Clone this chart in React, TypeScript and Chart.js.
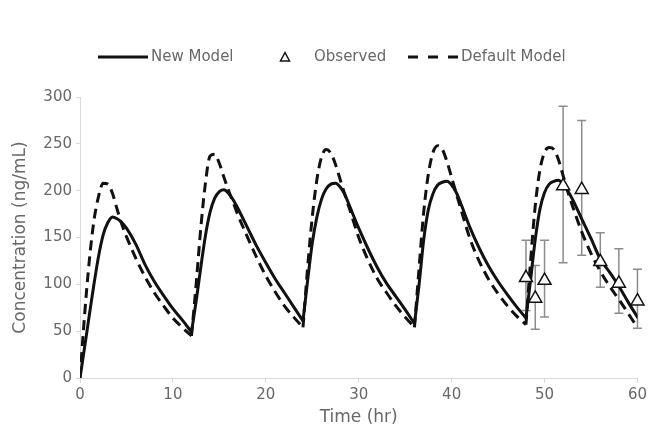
import { useEffect, useRef } from "react";
import { Chart, registerables } from "chart.js";

Chart.register(...registerables);

// Dosing every 12 h; each model curve restarts sharply at a dose.
const doseStarts = [0, 12, 24, 36, 48];
const cycleOffsets = [0, 0.5, 1, 1.5, 2, 2.5, 3, 3.5, 4, 4.5, 5, 6, 7, 8, 9, 10, 11, 12];

// Concentrations (ng/mL) per dosing interval, aligned with cycleOffsets.
const newModelConc: number[][] = [
  [0, 33, 67, 100, 130, 153, 166, 172, 170, 166, 160, 143, 121, 103, 88, 74, 62, 49],
  [49, 82, 118, 152, 177, 192, 199, 201, 197, 190, 181, 161, 141, 123, 106, 91, 76, 61],
  [61, 104, 144, 172, 191, 202, 207, 208, 204, 196, 184, 160, 138, 118, 101, 87, 73, 58],
  [58, 100, 148, 180, 197, 206, 209, 210, 206, 198, 186, 160, 138, 119, 103, 89, 76, 64],
  [64, 105, 148, 180, 198, 207, 210, 211, 207, 200, 191, 170, 149, 127, 113, 98, 81, 65],
];

const defaultModelConc: number[][] = [
  [0, 68, 125, 168, 194, 208, 207, 197, 180, 164, 151, 128, 108, 91, 77, 64, 54, 45],
  [45, 100, 160, 208, 237, 239, 229, 214, 200, 187, 174, 151, 129, 109, 92, 77, 65, 54],
  [54, 118, 172, 212, 236, 244, 240, 228, 212, 196, 181, 150, 126, 106, 91, 77, 65, 54],
  [54, 118, 178, 218, 241, 248, 244, 231, 214, 197, 180, 148, 124, 105, 90, 77, 66, 57],
  [57, 125, 184, 222, 241, 246, 244, 233, 216, 199, 184, 156, 133, 114, 98, 84, 69, 54],
];

// Observed concentrations with error bars
const observedHours = [48, 49, 50, 52, 54, 56, 58, 60];
const observedConc = [107, 85, 104, 205, 201, 124, 101, 82];
const observedLower = [72, 52, 65, 123, 131, 97, 69, 53];
const observedUpper = [147, 120, 147, 290, 275, 155, 138, 116];

const xTicks = [0, 10, 20, 30, 40, 50, 60];
const yTicks = [0, 50, 100, 150, 200, 250, 300];

const FONT = "'DejaVu Sans', Verdana, sans-serif";
const TEXT = "#686868";
const AXIS = "#d9d9d9";
const INK = "#111111";

function buildSeries(rows: number[][]) {
  const pts: { x: number; y: number | null }[] = [];
  rows.forEach((row, k) => {
    // a null point breaks the line so the dose restart stays a sharp corner
    if (k > 0) pts.push({ x: doseStarts[k], y: null });
    row.forEach((v, i) => pts.push({ x: doseStarts[k] + cycleOffsets[i], y: v }));
  });
  return pts;
}

const errorBarPlugin = {
  id: "errorBars",
  beforeDatasetsDraw(chart: any) {
    const { ctx, scales } = chart;
    const xs = scales.x;
    const ys = scales.y;
    ctx.save();
    ctx.strokeStyle = "#8c8c8c";
    ctx.lineWidth = 1.5;
    observedHours.forEach((t, i) => {
      const px = xs.getPixelForValue(t);
      const top = ys.getPixelForValue(observedUpper[i]);
      const bot = ys.getPixelForValue(observedLower[i]);
      ctx.beginPath();
      ctx.moveTo(px, top);
      ctx.lineTo(px, bot);
      ctx.moveTo(px - 4.5, top);
      ctx.lineTo(px + 4.5, top);
      ctx.moveTo(px - 4.5, bot);
      ctx.lineTo(px + 4.5, bot);
      ctx.stroke();
    });
    ctx.restore();
  },
};

const legendPlugin = {
  id: "modelLegend",
  afterDraw(chart: any) {
    const { ctx } = chart;
    const y = 57;
    ctx.save();
    ctx.font = `15px ${FONT}`;
    ctx.fillStyle = TEXT;
    ctx.textBaseline = "middle";
    ctx.textAlign = "left";

    ctx.strokeStyle = INK;
    ctx.lineWidth = 3;
    ctx.beginPath();
    ctx.moveTo(98, y);
    ctx.lineTo(148, y);
    ctx.stroke();
    ctx.fillText("New Model", 151, y);

    ctx.lineWidth = 1.5;
    ctx.beginPath();
    ctx.moveTo(285, y - 4.5);
    ctx.lineTo(289.5, y + 4);
    ctx.lineTo(280.5, y + 4);
    ctx.closePath();
    ctx.stroke();
    ctx.fillText("Observed", 314, y);

    ctx.lineWidth = 3;
    ctx.setLineDash([10, 10]);
    ctx.beginPath();
    ctx.moveTo(408, y);
    ctx.lineTo(458, y);
    ctx.stroke();
    ctx.setLineDash([]);
    ctx.fillText("Default Model", 461, y);
    ctx.restore();
  },
};

export default function App() {
  const ref = useRef<HTMLCanvasElement | null>(null);

  useEffect(() => {
    if (!ref.current) return;
    Chart.defaults.font.family = FONT;
    const chart = new Chart(ref.current, {
      type: "line",
      data: {
        datasets: [
          {
            label: "Observed",
            data: observedHours.map((t, i) => ({ x: t, y: observedConc[i] })),
            showLine: false,
            clip: false,
            pointStyle: "triangle",
            pointRadius: 7.5,
            pointBorderWidth: 1.5,
            pointBorderColor: INK,
            pointBackgroundColor: "#ffffff",
          },
          {
            label: "New Model",
            data: buildSeries(newModelConc),
            borderColor: INK,
            borderWidth: 3,
            pointRadius: 0,
            fill: false,
            cubicInterpolationMode: "monotone",
            borderCapStyle: "round",
            borderJoinStyle: "round",
          },
          {
            label: "Default Model",
            data: buildSeries(defaultModelConc),
            borderColor: INK,
            borderWidth: 3,
            borderDash: [10, 6],
            pointRadius: 0,
            fill: false,
            cubicInterpolationMode: "monotone",
          },
        ],
      } as any,
      options: {
        animation: false,
        responsive: false,
        devicePixelRatio: 1,
        layout: { padding: { top: 97, right: 12, left: 0, bottom: 0 } },
        plugins: {
          legend: { display: false },
          tooltip: { enabled: false },
        },
        scales: {
          x: {
            type: "linear",
            min: 0,
            max: 60,
            afterBuildTicks: (s: any) => {
              s.ticks = xTicks.map((v) => ({ value: v }));
            },
            afterFit: (s: any) => {
              s.height = 53;
            },
            ticks: { color: TEXT, font: { size: 15 }, padding: 3 },
            grid: { drawOnChartArea: false, tickLength: 5, color: AXIS },
            border: { color: AXIS, width: 1 },
            title: {
              display: true,
              text: "Time (hr)",
              color: TEXT,
              font: { size: 17 },
              padding: { top: 0, bottom: 3 },
            },
          },
          y: {
            type: "linear",
            min: 0,
            max: 300,
            afterBuildTicks: (s: any) => {
              s.ticks = yTicks.map((v) => ({ value: v }));
            },
            afterFit: (s: any) => {
              s.width = 80;
            },
            ticks: { color: TEXT, font: { size: 15 }, padding: 4 },
            grid: { drawOnChartArea: false, tickLength: 4, color: AXIS },
            border: { color: AXIS, width: 1 },
            title: {
              display: true,
              text: "Concentration (ng/mL)",
              color: TEXT,
              font: { size: 17 },
              padding: { top: 10, bottom: 0 },
            },
          },
        },
      } as any,
      plugins: [errorBarPlugin, legendPlugin],
    });
    return () => chart.destroy();
  }, []);

  return (
    <div style={{ position: "absolute", left: 0, top: 0, width: 650, height: 431, background: "#ffffff" }}>
      <canvas ref={ref} width={650} height={431} style={{ display: "block", width: 650, height: 431 }} />
    </div>
  );
}
